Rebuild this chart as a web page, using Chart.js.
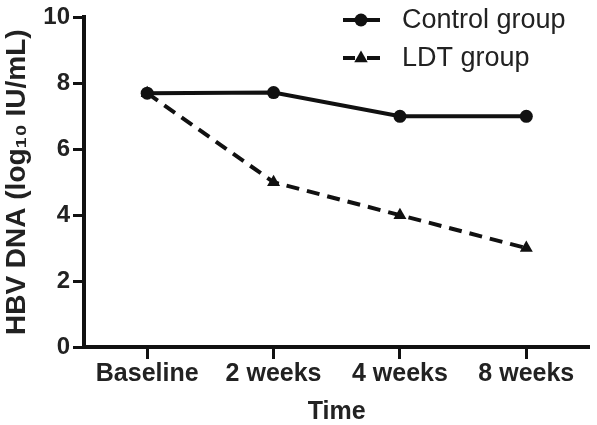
<!DOCTYPE html>
<html>
<head>
<meta charset="utf-8">
<script src="https://cdn.jsdelivr.net/npm/chart.js@4.4.1/dist/chart.umd.min.js"></script>
<style>
  html, body { margin: 0; padding: 0; background: #fff; }
</style>
</head>
<body>
<canvas id="hbv-chart" width="597" height="425"></canvas>
<script>
// данные
const timePoints = ['Baseline', '2 weeks', '4 weeks', '8 weeks'];
const controlGroup = [7.7, 7.72, 7.0, 7.0];
const ldtGroup = [7.7, 5.0, 4.0, 3.0];
const seriesNames = ['Control group', 'LDT group'];

const ink = '#111';

// легенда внутри области графика
const insideLegend = {
    id: 'insideLegend',
    afterDraw(chart) {
        const ctx = chart.ctx;
        chart.data.datasets.forEach((ds, i) => {
            const y = 20 + i * 38;
            const x0 = 343, x1 = 380, xm = 361;
            ctx.save();
            ctx.strokeStyle = ink;
            ctx.fillStyle = ink;
            ctx.lineWidth = 4;
            ctx.beginPath();
            if (ds.borderDash) {
                ctx.moveTo(x0, y); ctx.lineTo(xm - 6, y);
                ctx.moveTo(xm + 6, y); ctx.lineTo(x1, y);
            } else {
                ctx.moveTo(x0, y); ctx.lineTo(x1, y);
            }
            ctx.stroke();
            ctx.beginPath();
            if (ds.pointStyle === 'triangle') {
                const r = ds.pointRadius;
                ctx.moveTo(xm, y - r);
                ctx.lineTo(xm + r * 0.9, y + r * 0.55);
                ctx.lineTo(xm - r * 0.9, y + r * 0.55);
                ctx.closePath();
            } else {
                ctx.arc(xm, y, ds.pointRadius, 0, Math.PI * 2);
            }
            ctx.fill();
            ctx.font = '27px "Liberation Sans", Arial, sans-serif';
            ctx.fillStyle = '#222';
            ctx.textBaseline = 'middle';
            ctx.textAlign = 'left';
            ctx.fillText(ds.label, 402, y + 1);
            ctx.restore();
        });
    }
};

const ctx = document.getElementById('hbv-chart').getContext('2d');
new Chart(ctx, {
    type: 'line',
    data: {
        labels: timePoints,
        datasets: [{
            label: seriesNames[0],
            data: controlGroup,
            borderColor: ink,
            backgroundColor: ink,
            borderWidth: 4,
            pointStyle: 'circle',
            pointRadius: 6.5,
            pointBorderWidth: 0,
            fill: false,
            tension: 0
        }, {
            label: seriesNames[1],
            data: ldtGroup,
            borderColor: ink,
            backgroundColor: ink,
            borderWidth: 4,
            borderDash: [13, 8],
            pointStyle: 'triangle',
            pointRadius: 7.5,
            pointBorderWidth: 0,
            fill: false,
            tension: 0
        }]
    },
    options: {
        responsive: false,
        animation: false,
        layout: { padding: { top: 10, right: 4, left: 0, bottom: 0 } },
        plugins: {
            legend: { display: false },
            tooltip: { enabled: false }
        },
        scales: {
            x: {
                offset: true,
                afterFit: s => { s.height = 78; },
                border: { display: true, color: ink, width: 4 },
                grid: {
                    drawOnChartArea: false,
                    drawTicks: true,
                    tickLength: 12,
                    tickWidth: 3,
                    tickColor: ink
                },
                ticks: {
                    color: '#222',
                    padding: 0,
                    maxRotation: 0,
                    font: { family: '"Liberation Sans", Arial, sans-serif', size: 25, weight: 'bold' }
                },
                title: {
                    display: true,
                    text: 'Time',
                    color: '#222',
                    padding: 0,
                    font: { family: '"Liberation Sans", Arial, sans-serif', size: 25, weight: 'bold', lineHeight: 1 }
                }
            },
            y: {
                min: 0,
                max: 10,
                afterFit: s => { s.width = 84; },
                border: { display: true, color: ink, width: 4 },
                grid: {
                    drawOnChartArea: false,
                    drawTicks: true,
                    tickLength: 11,
                    tickWidth: 3,
                    tickColor: ink
                },
                ticks: {
                    stepSize: 2,
                    color: '#222',
                    padding: 3,
                    font: { family: '"Liberation Sans", Arial, sans-serif', size: 24, weight: 'bold' }
                },
                title: {
                    display: true,
                    text: 'HBV DNA (log₁₀ IU/mL)',
                    color: '#222',
                    padding: 0,
                    font: { family: '"Liberation Sans", Arial, sans-serif', size: 28, weight: 'bold' }
                }
            }
        }
    },
    plugins: [insideLegend]
});
</script>
</body>
</html>
